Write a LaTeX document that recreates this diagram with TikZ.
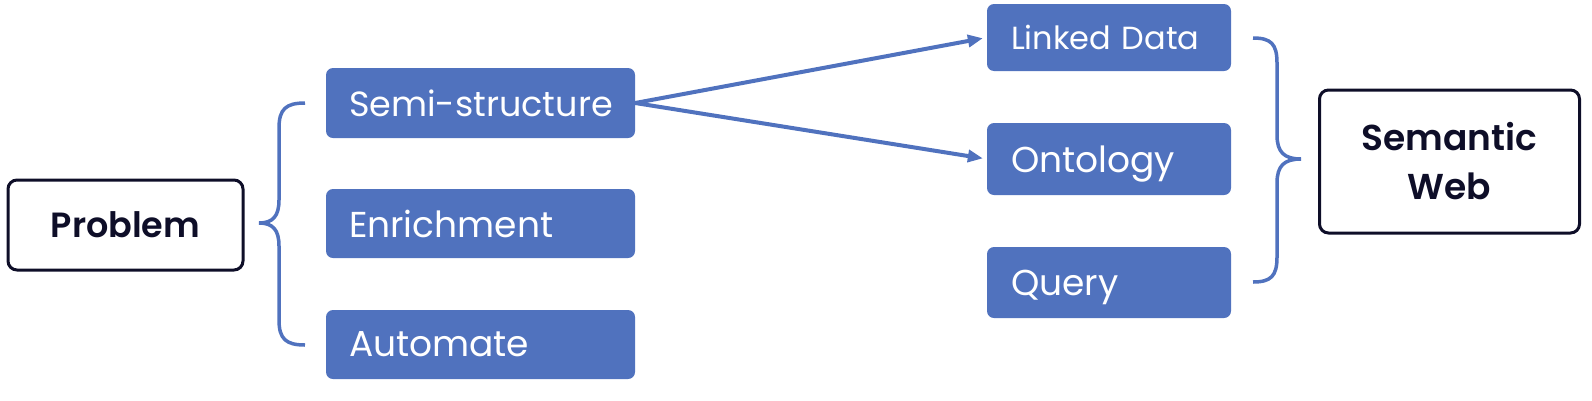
\documentclass[tikz,border=0pt]{standalone}
\usepackage{fontspec}
\setmainfont{Poppins}[BoldFont={Poppins SemiBold}]
\usetikzlibrary{arrows.meta}
\definecolor{boxblue}{RGB}{80,114,190}
\definecolor{inkdark}{RGB}{14,14,40}
\tikzset{
  bluebox/.style={fill=boxblue, draw=none, rounded corners=7pt, text=white,
    inner xsep=23pt, inner ysep=0pt, align=left, font=\fontsize{36}{42}\selectfont},
  outlinebox/.style={draw=inkdark, line width=3pt, rounded corners=9pt, text=inkdark,
    align=center, inner sep=0pt, font=\bfseries\fontsize{36}{49}\selectfont},
  bracepath/.style={draw=boxblue, line width=3.5pt},
  conn/.style={draw=boxblue, line width=4pt, -{Triangle[length=15pt,width=12pt]}}
}
\begin{document}
\begin{tikzpicture}[x=1pt,y=-1pt]
\useasboundingbox (0,0) rectangle (1592,400);
\node[outlinebox, minimum width=235pt, minimum height=90pt, font=\bfseries\fontsize{35}{42}\selectfont] (problem) at (125.5,225) {Problem};
\node[bluebox, text width=263pt, minimum height=70pt, font=\fontsize{35}{42}\selectfont] (semi) at (480.5,103) {\mbox{Semi-structure}};
\node[bluebox, text width=263pt, minimum height=69pt] (enrich) at (480.5,223.5) {Enrichment};
\node[bluebox, text width=263pt, minimum height=69pt] (auto) at (480.5,344.5) {Automate};
\node[bluebox, text width=196pt, inner xsep=24pt, minimum height=67pt, font=\fontsize{32}{38}\selectfont] (linked) at (1109,37.5) {Linked Data};
\node[bluebox, text width=196pt, inner xsep=24pt, minimum height=72pt, text depth=0pt] (onto) at (1109,159) {Ontology};
\node[bluebox, text width=196pt, inner xsep=24pt, minimum height=71pt, text depth=0pt] (query) at (1109,282.5) {Query};
\node[outlinebox, minimum width=260pt, minimum height=143pt] (sw) at (1449.5,161.5) {Semantic\\Web};
% braces
\path[bracepath] (305,103) .. controls (286,103) and (279,109) .. (279,128) -- (279,200)
  .. controls (279,216) and (273,223) .. (259,223)
  .. controls (273,223) and (279,230) .. (279,246) -- (279,320)
  .. controls (279,339) and (286,345) .. (305,345);
\path[bracepath] (1253,38) .. controls (1271,38) and (1277,44) .. (1277,63) -- (1277,135)
  .. controls (1277,152) and (1284,159) .. (1301,159)
  .. controls (1284,159) and (1277,166) .. (1277,183) -- (1277,257)
  .. controls (1277,276) and (1271,282) .. (1253,282);
% connectors
\draw[conn, shorten <=-5pt, shorten >=4pt] (semi.east) -- (linked.west);
\draw[conn, shorten <=-5pt, shorten >=4pt] (semi.east) -- (onto.west);
\end{tikzpicture}
\end{document}
